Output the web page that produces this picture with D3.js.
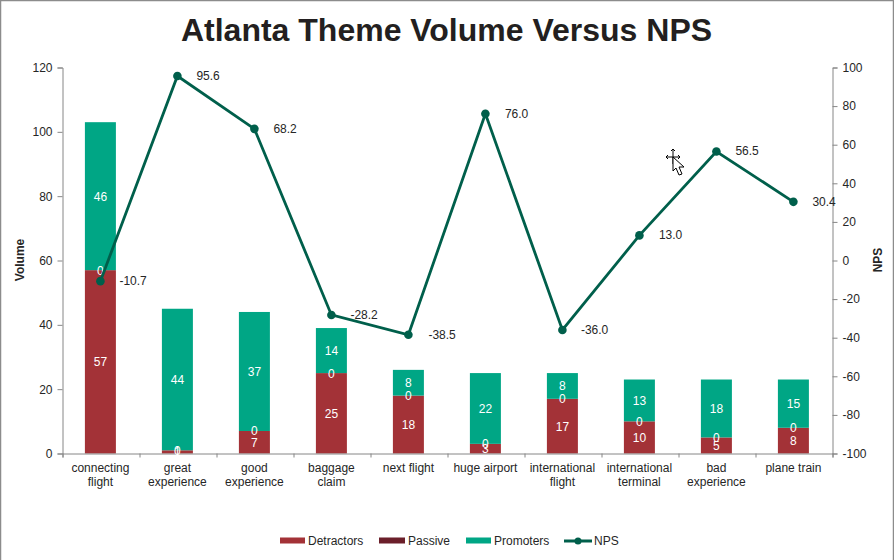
<!DOCTYPE html>
<html><head><meta charset="utf-8">
<script src="https://cdn.jsdelivr.net/npm/d3@7"></script>
<style>
html,body{margin:0;padding:0;background:#fff;overflow:hidden}
svg{display:block}
text{font-family:"Liberation Sans",Arial,sans-serif;fill:#262626}
</style></head><body><svg id="c" width="894" height="560"></svg>
<script>
const titleText = "Atlanta Theme Volume Versus NPS";
const categories = [["connecting","flight"],["great","experience"],["good","experience"],["baggage","claim"],["next flight"],["huge airport"],["international","flight"],["international","terminal"],["bad","experience"],["plane train"]];
const detractors = [57,1,7,25,18,3,17,10,5,8];
const passive = [0,0,0,0,0,0,0,0,0,0];
const promoters = [46,44,37,14,8,22,8,13,18,15];
const nps = [-10.7,95.6,68.2,-28.2,-38.5,76.0,-36.0,13.0,56.5,30.4];
const volumeTicks = [0,20,40,60,80,100,120];
const npsTicks = [-100,-80,-60,-40,-20,0,20,40,60,80,100];
const seriesNames = ["Detractors","Passive","Promoters"];
const seriesColors = ["#A33237","#6B1F2A","#00A685"];
const lineColor = "#005F4B";
const axisColor = "#868686";

const svg = d3.select("#c");
const L=62.5,R=832.5,T=67.5,B=453.5;
svg.append("rect").attr("x",0.5).attr("y",0.5).attr("width",893).attr("height",570).attr("fill","#fff").attr("stroke","#8c8c8c").attr("stroke-width",1.5);
const x=d3.scaleBand().domain(d3.range(categories.length)).range([L,R]);
const yL=d3.scaleLinear().domain([0,120]).range([B,T]);
const yR=d3.scaleLinear().domain([-100,100]).range([B,T]);
const barW=31;
const cx=i=>x(i)+x.bandwidth()/2-0.6;

svg.append("text").attr("x",446.5).attr("y",41).attr("text-anchor","middle").attr("font-size",32).attr("font-weight","bold").style("fill","#231f20").text(titleText);

const rows=categories.map((c,i)=>({i,Detractors:detractors[i],Passive:passive[i],Promoters:promoters[i]}));
const stacked=d3.stack().keys(seriesNames)(rows);
stacked.forEach((s,k)=>{
  svg.append("g").selectAll("rect").data(s).join("rect")
    .attr("x",d=>cx(d.data.i)-barW/2).attr("width",barW)
    .attr("y",d=>yL(d[1])).attr("height",d=>yL(d[0])-yL(d[1]))
    .attr("fill",seriesColors[k]);
});
function styleAxis(g){g.selectAll("path,line").attr("stroke",axisColor).attr("stroke-width",1);
  g.selectAll("text").attr("font-size",12).style("fill","#262626");}
const hyph=d=>String(d);
svg.append("g").attr("transform",`translate(${L},0)`).call(d3.axisLeft(yL).tickValues(volumeTicks).tickFormat(hyph).tickSize(5).tickSizeOuter(5).tickPadding(5)).call(styleAxis);
svg.append("g").attr("transform",`translate(${R},0)`).call(d3.axisRight(yR).tickValues(npsTicks).tickFormat(hyph).tickSize(5).tickSizeOuter(5).tickPadding(5)).call(styleAxis);
const xAxis=d3.axisBottom(d3.scaleLinear().domain([0,categories.length]).range([L,R])).ticks(categories.length).tickSize(4).tickSizeOuter(4).tickFormat("");
svg.append("g").attr("transform",`translate(0,${B})`).call(xAxis).call(styleAxis);
categories.forEach((c,i)=>{
  const t=svg.append("text").attr("text-anchor","middle").attr("font-size",12).attr("y",472);
  c.forEach((w,j)=>t.append("tspan").attr("x",cx(i)).attr("dy",j?14:0).text(w));
});
svg.append("text").attr("transform","translate(24,260) rotate(-90)").attr("text-anchor","middle").attr("font-size",12).attr("font-weight","bold").text("Volume");
svg.append("text").attr("transform","translate(882,260) rotate(-90)").attr("text-anchor","middle").attr("font-size",12).attr("font-weight","bold").text("NPS");
const bl=svg.append("g").attr("text-anchor","middle").attr("font-size",12);
function lab(xp,yp,t){bl.append("text").attr("x",xp).attr("y",yp+4.5).style("fill","#fff").text(t);}
rows.forEach(r=>{
  const d=r.Detractors,p=r.Promoters,i=r.i;
  lab(cx(i),yL(d/2),d);
  lab(cx(i),yL(d),r.Passive);
  lab(cx(i),yL(d+p/2),p);
});
const line=d3.line().x((d,i)=>cx(i)).y(d=>yR(d));
svg.append("path").datum(nps).attr("d",line).attr("fill","none").attr("stroke",lineColor).attr("stroke-width",2.8);
svg.append("g").selectAll("circle").data(nps).join("circle").attr("cx",(d,i)=>cx(i)).attr("cy",d=>yR(d)).attr("r",4.3).attr("fill",lineColor);
const labelDx=[19,19,19,19,20,19.5,18.5,19.5,19,19];
svg.append("g").selectAll("text").data(nps).join("text").attr("x",(d,i)=>cx(i)+labelDx[i]).attr("y",d=>yR(d)+4).attr("font-size",12).text(d=>d.toFixed(1));
const lg=svg.append("g");
const lgX=[280,379,466],lgTx=[308,408,494];
seriesNames.forEach((n,k)=>{
  lg.append("rect").attr("x",lgX[k]).attr("y",537.5).attr("width",k==1?26:25).attr("height",6).attr("fill",seriesColors[k]);
  lg.append("text").attr("x",lgTx[k]).attr("y",545).attr("font-size",12).text(n);
});
lg.append("line").attr("x1",564).attr("x2",592).attr("y1",541).attr("y2",541).attr("stroke",lineColor).attr("stroke-width",3);
lg.append("circle").attr("cx",578).attr("cy",541).attr("r",3.5).attr("fill",lineColor);
lg.append("text").attr("x",594).attr("y",545).attr("font-size",12).text("NPS");
const cur=svg.append("g").attr("transform","translate(673,157)").attr("fill","none");
cur.append("path").attr("d","M-7,0H7M0,-8V7M-7,0l2,-2M-7,0l2,2M7,0l-2,-2M7,0l-2,2M0,-8l-2,2M0,-8l2,2").attr("stroke","#000").attr("stroke-width",1);
cur.append("path").attr("d","M0,0V14l3,-3l3,7l3,-1l-3,-7h5Z").attr("fill","#fff").attr("stroke","#000").attr("stroke-width",1);
</script></body></html>
